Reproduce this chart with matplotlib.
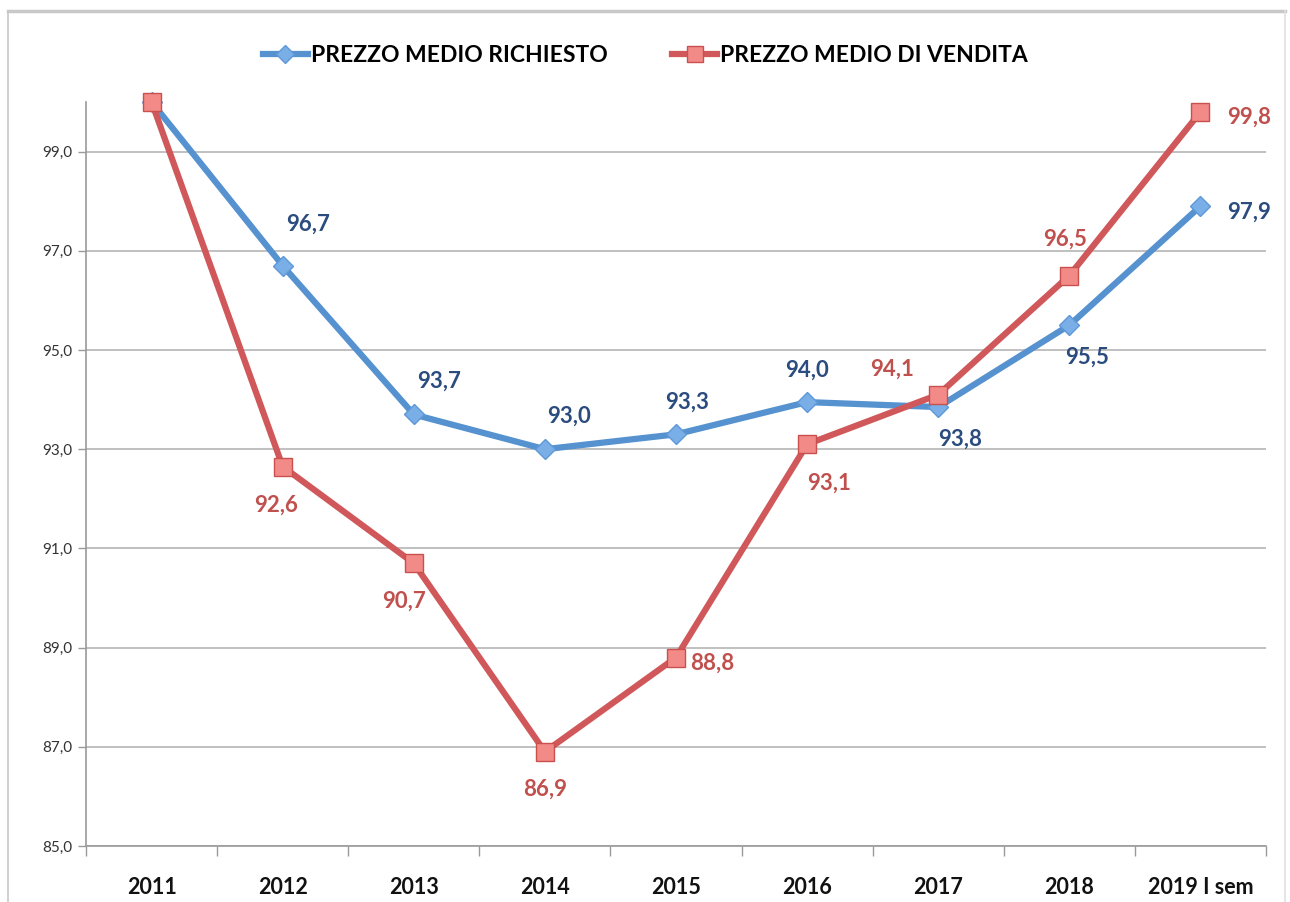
import matplotlib.pyplot as plt
from matplotlib.lines import Line2D

plt.rcParams['font.family'] = ['Lato', 'DejaVu Sans']

categories = ['2011', '2012', '2013', '2014', '2015', '2016', '2017', '2018', '2019 I sem']
richiesto = [100.0, 96.7, 93.7, 93.0, 93.3, 93.95, 93.85, 95.5, 97.9]
vendita = [100.0, 92.65, 90.7, 86.9, 88.8, 93.1, 94.1, 96.5, 99.8]
lbl_richiesto = [None, '96,7', '93,7', '93,0', '93,3', '94,0', '93,8', '95,5', '97,9']
lbl_vendita = [None, '92,6', '90,7', '86,9', '88,8', '93,1', '94,1', '96,5', '99,8']

# label offsets in points (dx, dy)
off_richiesto = [None, (18, 30), (18, 24), (17, 24), (8, 23), (0, 23), (16, -23), (13, -23), (35, -4)]
off_vendita = [None, (-5, -28), (-7, -27), (0, -27), (26, -4), (16, -28), (-33, 18), (-3, 26), (35, -4)]

blue_line = '#5592CF'
blue_mark = '#7AAEE6'
blue_text = '#2B4C7E'
red_line = '#D0585A'
red_mark = '#F28A88'
red_text = '#C0504D'

fig = plt.figure(figsize=(12.9, 9.02), dpi=100)
ax = fig.add_axes([0.0667, 0.0621, 0.9147, 0.8248])

x = list(range(len(categories)))
ax.plot(x, richiesto, color=blue_line, lw=4.5, marker='D', ms=10,
        mfc=blue_mark, mec='#5E98D8', mew=1, zorder=3, clip_on=False)
ax.plot(x, vendita, color=red_line, lw=4.5, marker='s', ms=13,
        mfc=red_mark, mec='#C9504D', mew=1, zorder=4, clip_on=False)

for i in x:
    if lbl_richiesto[i]:
        ax.annotate(lbl_richiesto[i], (i, richiesto[i]), xytext=off_richiesto[i],
                    textcoords='offset points', ha='center', va='center',
                    fontsize=16, fontweight='bold', color=blue_text, zorder=5)
    if lbl_vendita[i]:
        ax.annotate(lbl_vendita[i], (i, vendita[i]), xytext=off_vendita[i],
                    textcoords='offset points', ha='center', va='center',
                    fontsize=16, fontweight='bold', color=red_text, zorder=5)

ax.set_xlim(-0.5, len(categories) - 0.5)
ax.set_ylim(85, 100)
yt = [85, 87, 89, 91, 93, 95, 97, 99]
ax.set_yticks(yt)
ax.set_yticklabels([f'{v:.1f}'.replace('.', ',') for v in yt], fontsize=11, color='#333333')
ax.set_xticks(x)
ax.set_xticklabels(categories, fontsize=15.5, fontweight='bold', color='#111111')
ax.set_xticks([i - 0.5 for i in range(len(categories) + 1)], minor=True)
ax.tick_params(axis='x', which='major', length=0, pad=22)
ax.tick_params(axis='x', which='minor', length=7, color='#9a9a9a', width=1)
ax.tick_params(axis='y', length=6, color='#9a9a9a', width=1, pad=4)

ax.grid(axis='y', color='#b5b5b5', lw=1.2)
ax.set_axisbelow(True)
for s in ['top', 'right']:
    ax.spines[s].set_visible(False)
for s in ['left', 'bottom']:
    ax.spines[s].set_color('#9a9a9a')
    ax.spines[s].set_linewidth(1.2)

handles = [
    Line2D([], [], color=blue_line, lw=4.5, marker='D', ms=9, mfc=blue_mark, mec='#5E98D8'),
    Line2D([], [], color=red_line, lw=4.5, marker='s', ms=11, mfc=red_mark, mec='#C9504D'),
]
fig.legend(handles, ['PREZZO MEDIO RICHIESTO', 'PREZZO MEDIO DI VENDITA'],
           loc='center', bbox_to_anchor=(0.5, 0.938), ncol=2, frameon=False,
           prop={'size': 16.5, 'weight': 'bold'}, handlelength=2.0,
           handletextpad=0.1, columnspacing=2.8)

# chart area border
fig.add_artist(Line2D([8 / 1290, 1285 / 1290], [1 - 11 / 902, 1 - 11 / 902],
                      transform=fig.transFigure, color='#c8c8c8', lw=2.5))
fig.add_artist(Line2D([8 / 1290, 8 / 1290], [0, 1 - 11 / 902],
                      transform=fig.transFigure, color='#c8c8c8', lw=1.2))
fig.add_artist(Line2D([1285 / 1290, 1285 / 1290], [0, 1 - 11 / 902],
                      transform=fig.transFigure, color='#e0e0e0', lw=1.2))

fig.savefig('out.png', dpi=100)
